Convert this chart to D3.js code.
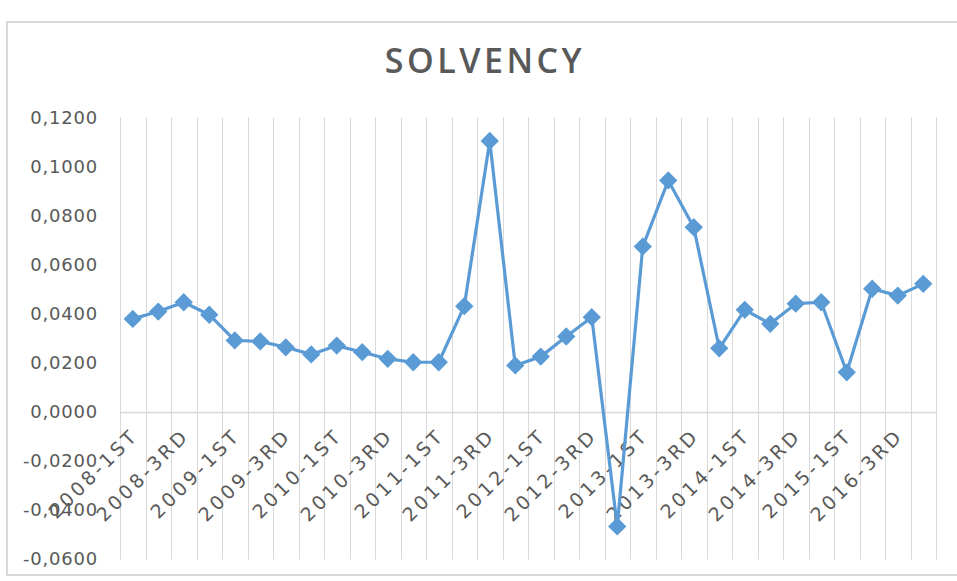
<!DOCTYPE html>
<html>
<head>
<meta charset="utf-8">
<script src="https://cdn.jsdelivr.net/npm/d3@7"></script>
<style>
  body { margin: 0; background: #fff; }
</style>
</head>
<body>
<div id="chart"></div>
<script>
var width = 957,
    height = 581;

// categories (quarters) as labelled in the sheet
var quarters = [
  "2008-1ST","2008-2ND","2008-3RD","2008-4TH",
  "2009-1ST","2009-2ND","2009-3RD","2009-4TH",
  "2010-1ST","2010-2ND","2010-3RD","2010-4TH",
  "2011-1ST","2011-2ND","2011-3RD","2011-4TH",
  "2012-1ST","2012-2ND","2012-3RD","2012-4TH",
  "2013-1ST","2013-2ND","2013-3RD","2013-4TH",
  "2014-1ST","2014-2ND","2014-3RD","2014-4TH",
  "2015-1ST","2015-2ND","2016-3RD","2016-4TH"
];

// solvency values
var solvency = [
  0.0378, 0.0408, 0.0446, 0.0395,
  0.0290, 0.0286, 0.0262, 0.0233,
  0.0269, 0.0242, 0.0215, 0.0201,
  0.0201, 0.0430, 0.1104, 0.0188,
  0.0224, 0.0306, 0.0385, -0.0469,
  0.0673, 0.0943, 0.0752, 0.0258,
  0.0415, 0.0358, 0.0440, 0.0446,
  0.0160, 0.0501, 0.0473, 0.0521
];

var yTicks = [-0.06, -0.04, -0.02, 0, 0.02, 0.04, 0.06, 0.08, 0.10, 0.12];

var data = quarters.map((q, i) => ({q: q, v: solvency[i]}));

var plotLeft = 120, plotRight = 936, plotTop = 117.5, plotBottom = 558.5;
var textColor = "#595959", gridColor = "#d9d9d9", lineColor = "#5b9bd5";

var svg = d3.select('#chart').append('svg')
    .attr('width', width)
    .attr('height', height);

// chart border
svg.append("rect")
    .attr("x", 7).attr("y", 22)
    .attr("width", 960).attr("height", 553)
    .attr("fill", "none")
    .attr("stroke", gridColor)
    .attr("stroke-width", 2);

// scales
let scaleX = d3.scaleBand().domain(quarters).range([plotLeft, plotRight]);
let scaleY = d3.scaleLinear().domain([-0.06, 0.12]).range([plotBottom, plotTop]);

// vertical gridlines between categories
let bounds = quarters.map(q => scaleX(q)).concat([plotRight]);
svg.append("g").selectAll("line").data(bounds).enter()
    .append("line")
    .attr("x1", d => Math.round(d) + 0.5)
    .attr("x2", d => Math.round(d) + 0.5)
    .attr("y1", plotTop)
    .attr("y2", plotBottom + 1)
    .attr("stroke", gridColor)
    .attr("stroke-width", 1);

// horizontal axis at zero
svg.append("line")
    .attr("x1", plotLeft).attr("x2", plotRight)
    .attr("y1", Math.round(scaleY(0)) + 0.5)
    .attr("y2", Math.round(scaleY(0)) + 0.5)
    .attr("stroke", gridColor)
    .attr("stroke-width", 1.3);

// y axis labels
let fmt = d => d3.format(".4f")(d).replace(".", ",").replace("−", "-");
let yAxis = d3.axisLeft(scaleY).tickValues(yTicks).tickSize(0).tickPadding(0).tickFormat(fmt);
let ya = svg.append("g").attr("transform", "translate(98,0)").call(yAxis);
ya.select(".domain").remove();
ya.selectAll("text")
    .attr("fill", textColor)
    .attr("font-family", "DejaVu Sans")
    .attr("font-size", 18)
    .attr("letter-spacing", 0.8)
    .attr("dy", "0.36em");

// x axis labels (every other category)
svg.append("g").selectAll("text")
    .data(quarters.filter((q, i) => i % 2 == 0)).enter()
    .append("text")
    .attr("transform", d => "translate(" + (scaleX(d) + scaleX.bandwidth() / 2 + 2) + "," + 432 + ") rotate(-45)")
    .attr("text-anchor", "end")
    .attr("dy", "0.35em")
    .attr("fill", textColor)
    .attr("font-family", "DejaVu Sans")
    .attr("font-size", 19)
    .attr("letter-spacing", 3.3)
    .text(d => d);

// title
svg.append("text")
    .attr("x", 485)
    .attr("y", 73)
    .attr("text-anchor", "middle")
    .attr("fill", textColor)
    .attr("font-family", "Open Sans")
    .attr("font-weight", 600)
    .attr("font-size", 34)
    .attr("letter-spacing", 3.5)
    .text("SOLVENCY");

// series line
let line = d3.line()
    .x(d => scaleX(d.q) + scaleX.bandwidth() / 2)
    .y(d => scaleY(d.v));

svg.append("path")
    .datum(data)
    .attr("d", line)
    .attr("fill", "none")
    .attr("stroke", lineColor)
    .attr("stroke-width", 3.2)
    .attr("stroke-linejoin", "round");

// diamond markers
let diamond = d3.symbol().type(d3.symbolSquare).size(120);
svg.append("g").selectAll("path").data(data).enter()
    .append("path")
    .attr("d", diamond)
    .attr("transform", d => "translate(" + (scaleX(d.q) + scaleX.bandwidth() / 2) + "," + scaleY(d.v) + ") rotate(45)")
    .attr("fill", lineColor)
    .attr("stroke", lineColor)
    .attr("stroke-width", 2);
</script>
</body>
</html>
